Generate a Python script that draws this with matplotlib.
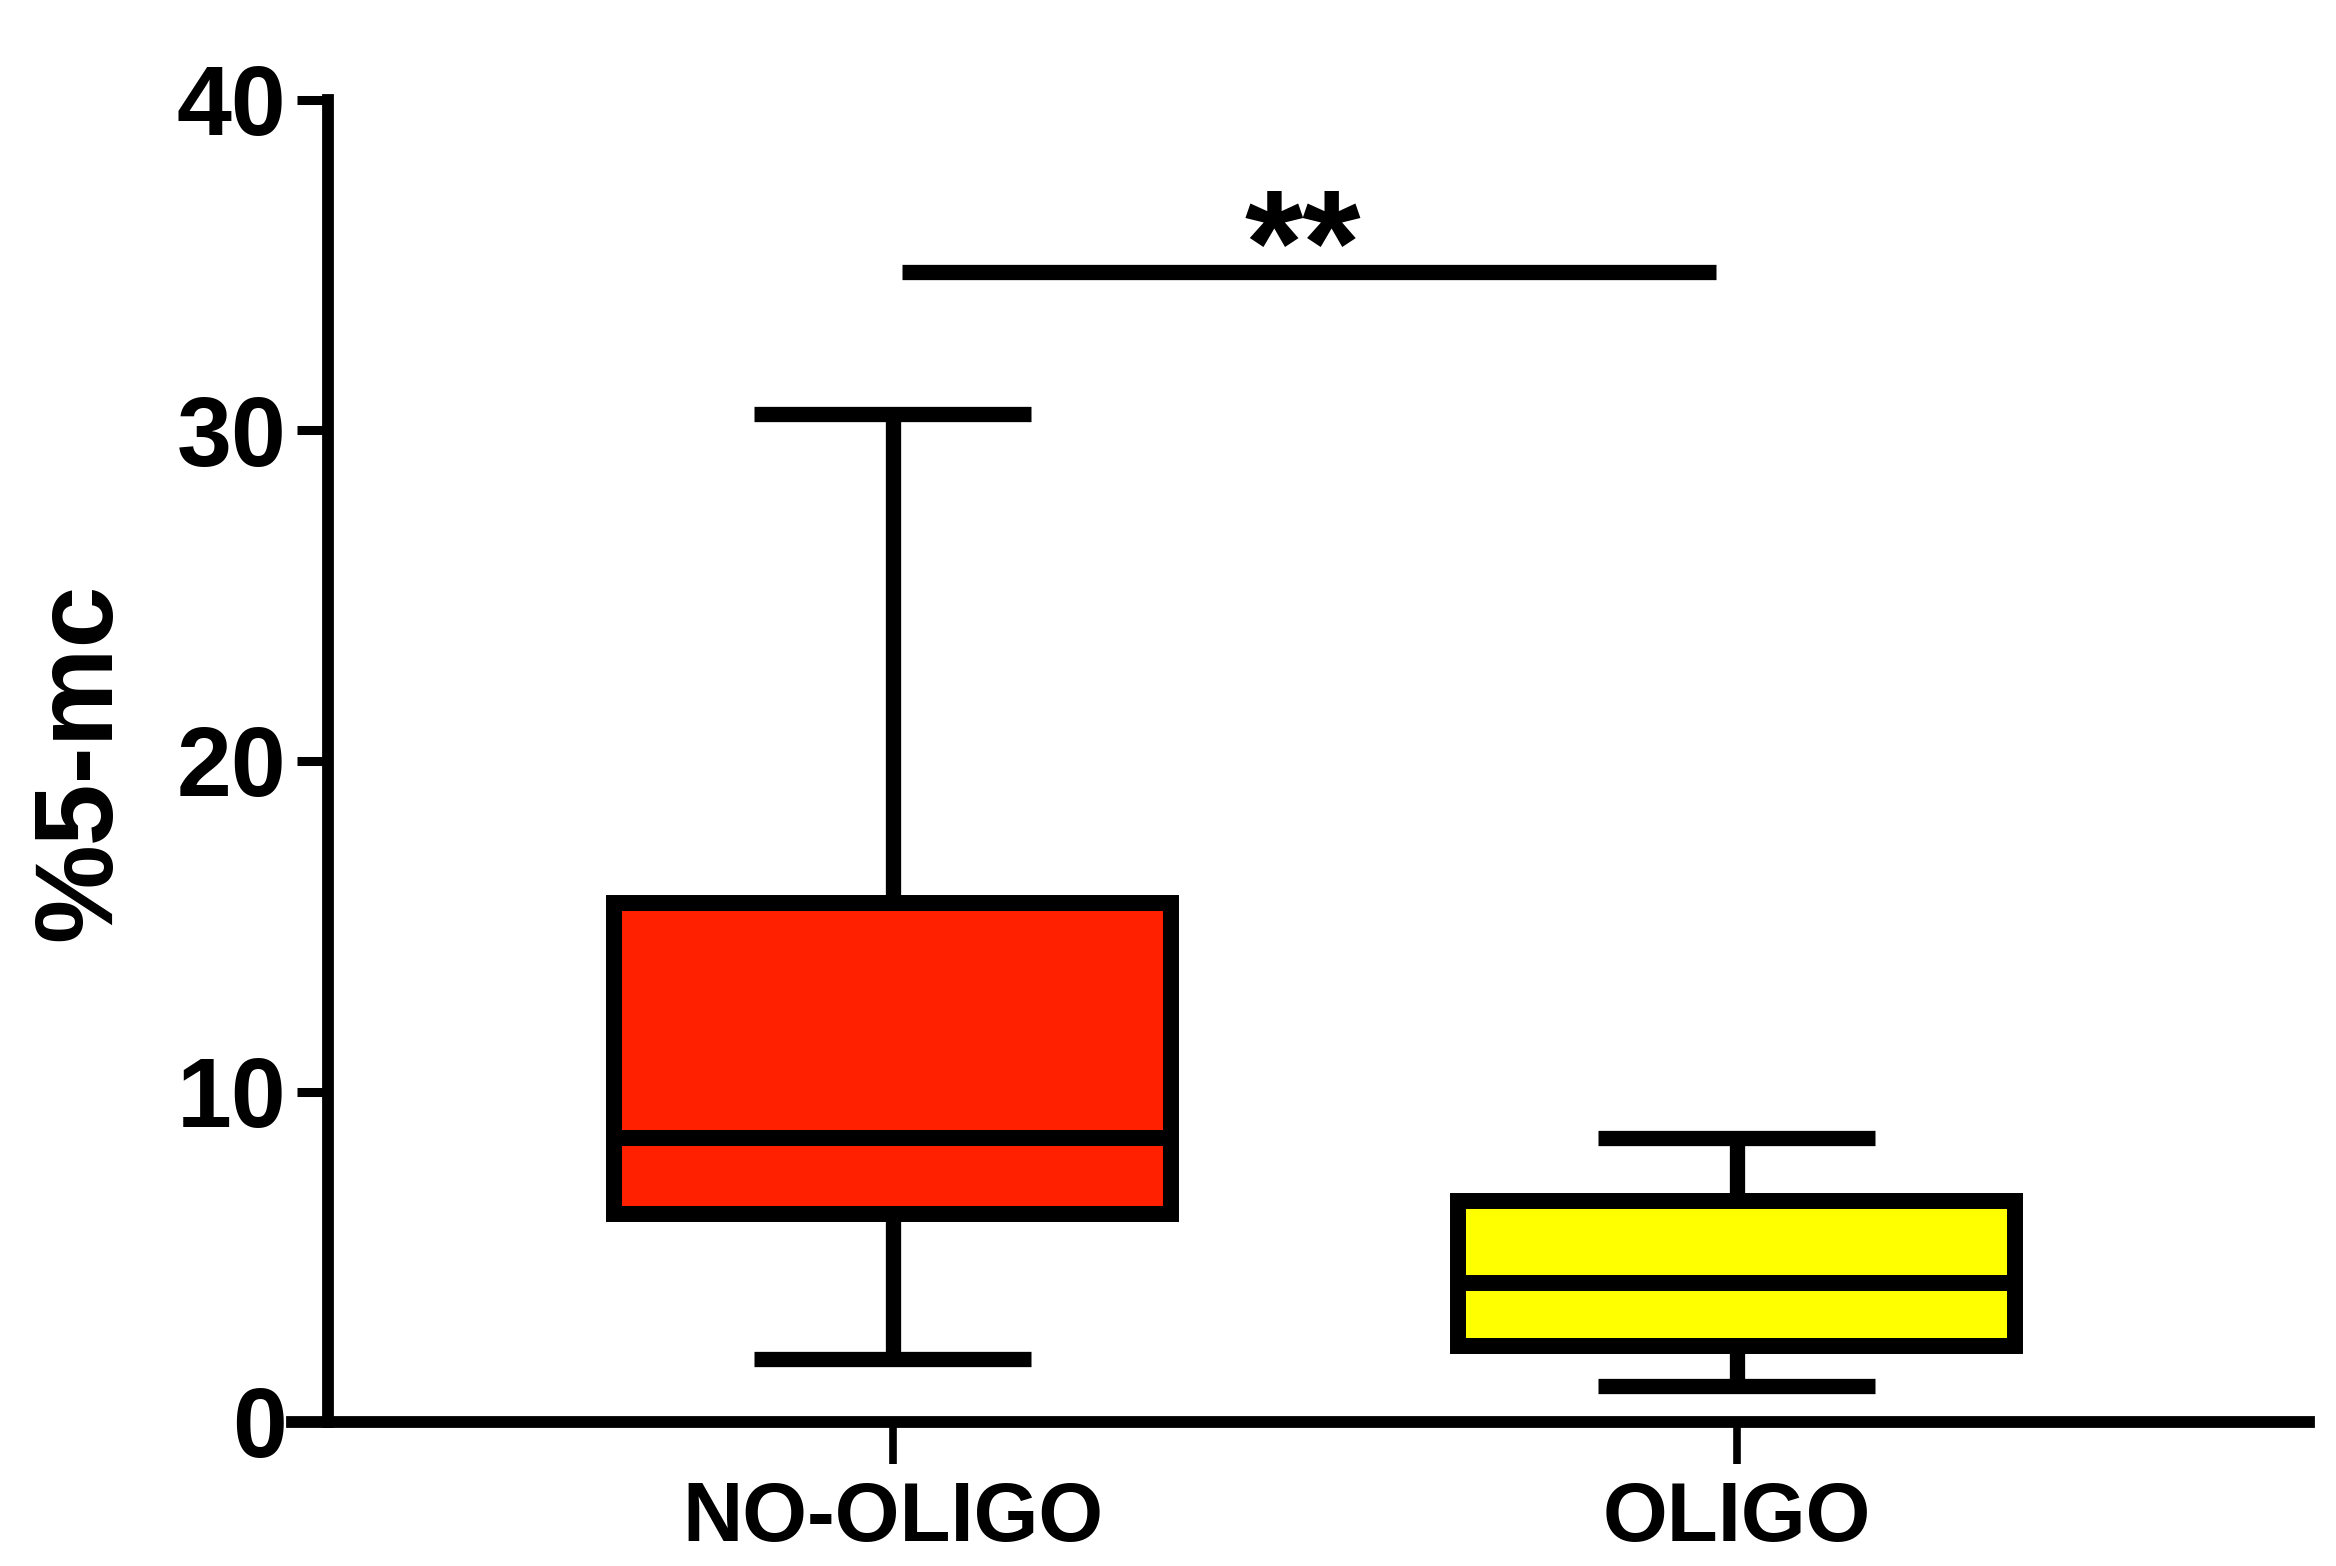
import matplotlib
matplotlib.use("Agg")
import matplotlib.pyplot as plt

categories = ["NO-OLIGO", "OLIGO"]
q1 = [6.3, 2.3]
median = [8.6, 4.2]
q3 = [15.7, 6.7]
whisker_low = [1.9, 1.1]
whisker_high = [30.5, 8.6]
box_colors = ["#FF2000", "#FFFF00"]
yticks = [0, 10, 20, 30, 40]
sig_y = 34.8
sig_label = "**"

plt.rcParams['font.family'] = ['Liberation Sans', 'DejaVu Sans']
plt.rcParams['font.weight'] = 'bold'

W, H = 2336, 1566
y0_px, y40_px = 1422, 100
fig = plt.figure(figsize=(W / 100, H / 100), dpi=100)
ax = fig.add_axes([292 / W, (H - y0_px) / H, (2309 - 292) / W, (y0_px - y40_px) / H])

stats = []
for i, c in enumerate(categories):
    stats.append(dict(label=c, med=median[i], q1=q1[i], q3=q3[i],
                      whislo=whisker_low[i], whishi=whisker_high[i], fliers=[]))

lw_box = 11.5
bp = ax.bxp(stats, positions=[0, 1], widths=0.66, patch_artist=True,
            showfliers=False, capwidths=0.328,
            boxprops=dict(linewidth=lw_box, edgecolor='black'),
            medianprops=dict(color='black', linewidth=lw_box, solid_capstyle='butt'),
            whiskerprops=dict(color='black', linewidth=11, solid_capstyle='butt'),
            capprops=dict(color='black', linewidth=11, solid_capstyle='butt'))
for patch, col in zip(bp['boxes'], box_colors):
    patch.set_facecolor(col)
    patch.set_joinstyle('miter')
    patch.set_zorder(3)
for ln in bp['medians']:
    ln.set_zorder(4)

ax.set_xlim(-0.712, 1.678)
ax.set_ylim(0, 40)

for s in ['top', 'right']:
    ax.spines[s].set_visible(False)
ax.spines['left'].set_position(('data', -0.669))
ax.spines['left'].set_bounds(0, 40)
ax.spines['left'].set_linewidth(8.5)
ax.spines['bottom'].set_linewidth(8.5)

ax.set_yticks(yticks)
ax.set_yticklabels([str(t) for t in yticks])
ax.set_xticks([0, 1])
ax.set_xticklabels(categories)
ax.tick_params(axis='y', length=22, width=6.5, pad=8, labelsize=71)
ax.tick_params(axis='x', length=30, width=5.5, pad=12, labelsize=60)
for lab in ax.get_xticklabels() + ax.get_yticklabels():
    lab.set_fontweight('bold')

ax.set_ylabel("%5-mc", fontsize=80, fontweight='bold')
ax.yaxis.set_label_coords(133 / W, 1 - 762 / H, transform=fig.transFigure)

ax.plot([0.011, 0.975], [sig_y, sig_y], color='black', linewidth=11,
        solid_capstyle='butt', clip_on=False)
ax.text(0.486, 34.1, sig_label, ha='center', va='baseline', fontsize=108,
        fontweight='bold', clip_on=False)

fig.savefig("out.png", dpi=100)
